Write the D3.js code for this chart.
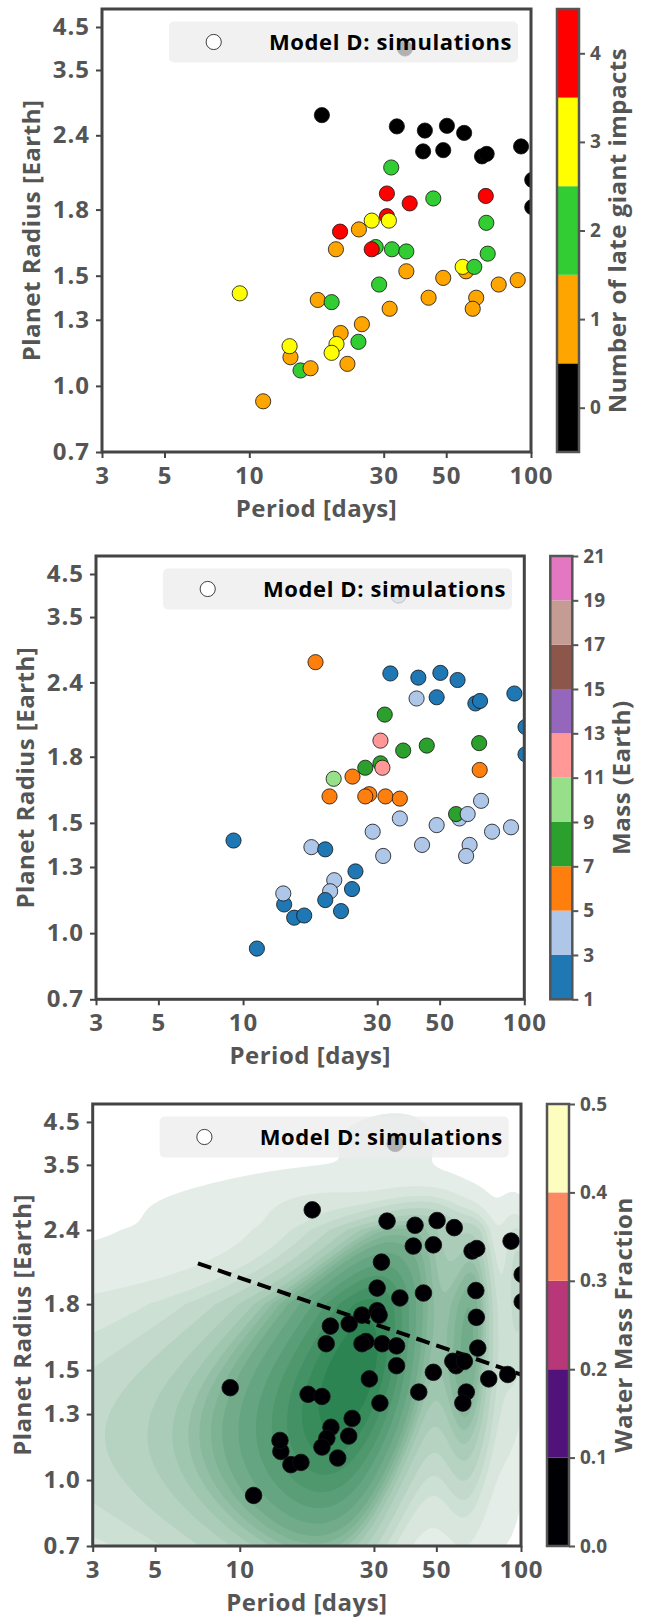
<!DOCTYPE html>
<html>
<head>
<meta charset="utf-8">
<script src="https://cdn.jsdelivr.net/npm/d3@7"></script>
<style>
  body { margin: 0; background: #fff; }
  text { font-family: "Open Sans", sans-serif; font-weight: bold; }
</style>
</head>
<body>
<div id="chart"></div>
<script>
var W = 650, H = 1618;

// simulated planets (Model D), one entry per planet, in drawing order
var period = [18.1, 33.4, 42.0, 50.3, 57.9, 41.4, 48.8, 67.0, 69.6, 92.2, 101, 101, 35.7,
  31.9, 30.8, 37.1, 45.0, 69.1, 69.4, 21.0, 24.5, 27.2, 30.8, 31.3, 20.3, 28.1, 27.2, 32.1,
  36.1, 70.2, 36.1, 58.8, 57.2, 62.9, 48.8, 76.8, 89.7, 28.9, 43.3, 63.9, 62.1, 31.5, 17.5,
  19.6, 25.1, 21.1, 24.4, 20.4, 19.6, 22.3, 9.25, 14.0, 13.9, 15.2, 16.5, 11.2];
var radius = [2.74, 2.55, 2.48, 2.56, 2.44, 2.27, 2.28, 2.23, 2.25, 2.31, 2.04, 1.82, 4.0,
  2.14, 1.93, 1.85, 1.89, 1.91, 1.74, 1.70, 1.71, 1.75, 1.77, 1.75, 1.62, 1.63, 1.62, 1.62,
  1.61, 1.60, 1.52, 1.52, 1.54, 1.54, 1.49, 1.46, 1.48, 1.46, 1.40, 1.40, 1.35, 1.35, 1.39,
  1.38, 1.28, 1.24, 1.20, 1.19, 1.15, 1.10, 1.42, 1.13, 1.18, 1.07, 1.08, 0.93];
var impacts = [0, 0, 0, 0, 0, 0, 0, 0, 0, 0, 0, 0, 0,
  2, 4, 4, 2, 4, 2, 4, 1, 3, 4, 3, 1, 2, 4, 2,
  2, 2, 1, 1, 3, 2, 1, 1, 1, 2, 1, 1, 1, 1, 1,
  2, 1, 1, 2, 3, 3, 1, 3, 1, 3, 2, 1, 1];
var mass = [6.1, 2.4, 2.2, 2.6, 2.3, 3.6, 2.5, 2.1, 2.7, 2.4, 2.2, 2.0, 4.4,
  7.6, 11.8, 8.2, 7.4, 8.6, 6.4, 9.6, 5.6, 7.8, 7.2, 11.4, 5.8, 6.2, 5.3, 6.6,
  5.9, 4.2, 3.8, 3.4, 7.3, 4.1, 3.7, 3.9, 4.5, 4.3, 3.5, 4.0, 3.6, 3.3, 3.9,
  2.6, 2.8, 3.2, 2.5, 3.4, 2.2, 1.9, 2.1, 2.3, 3.1, 1.8, 2.0, 1.7];
var waterFrac = [0, 0, 0, 0, 0, 0, 0, 0, 0, 0, 0, 0, 0,
  0, 0, 0, 0, 0, 0, 0, 0, 0, 0, 0, 0, 0, 0, 0,
  0, 0, 0, 0, 0, 0, 0, 0, 0, 0, 0, 0, 0, 0, 0,
  0, 0, 0, 0, 0, 0, 0, 0, 0, 0, 0, 0, 0];

// dashed trend line in the bottom panel
var fitPeriod = [7.1, 100];
var fitRadius = [2.13, 1.48];

var periodTicks = [3, 5, 10, 30, 50, 100];
var radiusTicks = [0.7, 1.0, 1.3, 1.5, 1.8, 2.4, 3.5, 4.5];
// the radius axis is stretched unevenly: value -> fraction of axis height
var radiusBreaks = [0.7, 1.8, 2.4, 3.5, 4.5, 4.91];
var radiusFrac = [0, 0.5472, 0.7149, 0.8623, 0.9594, 1];

var impactTicks = [0, 1, 2, 3, 4];
var impactColors = ["#000000", "#ffa500", "#32cd32", "#ffff00", "#ff0000"];
var massTicks = [1, 3, 5, 7, 9, 11, 13, 15, 17, 19, 21];
var massColors = ["#1f77b4", "#aec7e8", "#ff7f0e", "#2ca02c", "#98df8a",
  "#ff9896", "#9467bd", "#8c564b", "#c49c94", "#e377c2"];
var wmfTicks = [0.0, 0.1, 0.2, 0.3, 0.4, 0.5];
var wmfColors = ["#000004", "#51127c", "#b73779", "#fc8961", "#fcfdbf"];

var panels = [
  {left: 102, top: 9, width: 429, height: 443, values: impacts, r: 7.6,
   cb: {lo: -0.5, hi: 4.5, edges: [-0.5, 0.5, 1.5, 2.5, 3.5, 4.5], colors: impactColors,
        ticks: impactTicks, fmt: d3.format("d"), label: "Number of late giant impacts"}},
  {left: 96, top: 556, width: 428.3, height: 443.3, values: mass, r: 7.6,
   cb: {lo: 1, hi: 21, edges: massTicks, colors: massColors,
        ticks: massTicks, fmt: d3.format("d"), label: "Mass (Earth)"}},
  {left: 92.7, top: 1104, width: 428.3, height: 442, values: waterFrac, r: 8.3, kde: true,
   cb: {lo: 0, hi: 0.5, edges: wmfTicks, colors: wmfColors,
        ticks: wmfTicks, fmt: d3.format(".1f"), label: "Water Mass Fraction"}}
];

var svg = d3.select("#chart").append("svg")
  .attr("width", W)
  .attr("height", H);

var n = period.length;
var bwP = 7.5, bwR = 0.4;

function density(p, r) {
  var s = 0;
  for (var i = 0; i < n; i++) {
    var dp = (p - period[i]) / bwP, dr = (r - radius[i]) / bwR;
    s += Math.exp(-0.5 * (dp * dp + dr * dr));
  }
  return s / (n * 2 * Math.PI * bwP * bwR);
}

// iso-proportion levels computed on a regular grid in data space
function kdeLevels(count, thresh) {
  var p0 = d3.min(period) - 3 * bwP, p1 = d3.max(period) + 3 * bwP;
  var r0 = d3.min(radius) - 3 * bwR, r1 = d3.max(radius) + 3 * bwR;
  var vals = [];
  for (var i = 0; i < 200; i++) {
    for (var j = 0; j < 200; j++) {
      vals.push(density(p0 + i * (p1 - p0) / 199, r0 + j * (r1 - r0) / 199));
    }
  }
  vals.sort(function(a, b) { return b - a; });
  var total = d3.sum(vals), cum = 0, norm = [];
  vals.forEach(function(v) { cum += v; norm.push(cum / total); });
  return d3.range(count).map(function(k) {
    var q = thresh + k * (1 - thresh) / (count - 1);
    var idx = d3.bisectLeft(norm, 1 - q);
    return vals[Math.min(idx, vals.length - 1)];
  });
}

function drawKde(g, x, y, p) {
  var step = 2;
  var gw = Math.ceil(p.width / step) + 2, gh = Math.ceil(p.height / step) + 2;
  var values = new Array(gw * gh);
  for (var j = 0; j < gh; j++) {
    var r = y.invert(p.top + j * step);
    for (var i = 0; i < gw; i++) {
      values[j * gw + i] = density(x.invert(p.left + i * step), r);
    }
  }
  var levels = kdeLevels(18, 0.012);
  var color = d3.scaleLinear().domain([0, levels.length - 2])
    .range(["#e4ede7", "#2c8452"]).interpolate(d3.interpolateRgb);
  var contours = d3.contours().size([gw, gh]).thresholds(levels.slice(0, -1))(values);
  var path = d3.geoPath(d3.geoIdentity().scale(step)
    .translate([p.left - step / 2, p.top - step / 2]));
  g.selectAll(".band")
    .data(contours)
    .enter().append("path")
    .attr("class", "band")
    .attr("d", path)
    .attr("fill", function(d, i) { return color(i); })
    .attr("stroke", "none");

  var line = d3.line()
    .x(function(d) { return x(d[0]); })
    .y(function(d) { return y(d[1]); });
  g.append("path")
    .datum(d3.zip(fitPeriod, fitRadius))
    .attr("d", line)
    .attr("fill", "none")
    .attr("stroke", "#000")
    .attr("stroke-width", 4)
    .attr("stroke-dasharray", "14,7");
}

panels.forEach(function(p, k) {
  var x = d3.scaleLog().domain([3, 100]).range([p.left, p.left + p.width]);
  var y = d3.scaleLinear().domain(radiusBreaks)
    .range(radiusFrac.map(function(f) { return p.top + p.height * (1 - f); }));

  svg.append("clipPath").attr("id", "clip" + k)
    .append("rect")
    .attr("x", p.left).attr("y", p.top)
    .attr("width", p.width).attr("height", p.height);

  var plot = svg.append("g").attr("clip-path", "url(#clip" + k + ")");
  if (p.kde) drawKde(plot, x, y, p);

  var cb = p.cb;
  var pointColor = d3.scaleThreshold().domain(cb.edges.slice(1, -1)).range(cb.colors);

  plot.selectAll("circle")
    .data(d3.range(n))
    .enter().append("circle")
    .attr("cx", function(i) { return x(period[i]); })
    .attr("cy", function(i) { return y(radius[i]); })
    .attr("r", p.r)
    .attr("fill", function(i) { return pointColor(p.values[i]); })
    .attr("stroke", "#111")
    .attr("stroke-width", 0.8);

  // legend
  var lx = p.left + 67, ly = p.top + 12.5, lh = 41;
  svg.append("rect")
    .attr("x", lx).attr("y", ly)
    .attr("width", 349).attr("height", lh)
    .attr("rx", 5)
    .attr("fill", "#ececec")
    .attr("fill-opacity", 0.75);
  svg.append("circle")
    .attr("cx", lx + 44.7).attr("cy", ly + lh / 2)
    .attr("r", 7.6)
    .attr("fill", "#fff")
    .attr("stroke", "#111")
    .attr("stroke-width", 0.8);
  svg.append("text")
    .attr("x", lx + 100).attr("y", ly + lh / 2 + 7.5)
    .attr("fill", "#000")
    .style("font-size", "22px")
    .style("letter-spacing", "0.6px")
    .text("Model D: simulations");

  // axes
  var xAxis = svg.append("g")
    .attr("transform", "translate(0," + (p.top + p.height) + ")")
    .call(d3.axisBottom(x).tickValues(periodTicks).tickFormat(d3.format("d"))
      .tickSize(6).tickPadding(9));
  var yAxis = svg.append("g")
    .attr("transform", "translate(" + p.left + ",0)")
    .call(d3.axisLeft(y).tickValues(radiusTicks).tickFormat(d3.format(".1f"))
      .tickSize(6).tickPadding(6));
  [xAxis, yAxis].forEach(function(a) {
    a.select(".domain").remove();
    a.selectAll("line").attr("stroke", "#444").attr("stroke-width", 2);
    a.selectAll("text").attr("fill", "#555")
      .style("font-size", "24px").style("letter-spacing", "1px")
      .attr("font-family", null);
  });

  svg.append("rect")
    .attr("x", p.left).attr("y", p.top)
    .attr("width", p.width).attr("height", p.height)
    .attr("fill", "none")
    .attr("stroke", "#444")
    .attr("stroke-width", 3);

  svg.append("text")
    .attr("x", p.left + p.width / 2)
    .attr("y", p.top + p.height + 65)
    .attr("text-anchor", "middle")
    .attr("fill", "#555")
    .style("font-size", "24px")
    .style("letter-spacing", "0.5px")
    .text("Period [days]");

  svg.append("text")
    .attr("transform", "translate(" + (p.left - 62) + "," + (p.top + p.height / 2) + ") rotate(-90)")
    .attr("text-anchor", "middle")
    .attr("fill", "#555")
    .style("font-size", "24px")
    .style("letter-spacing", "0.5px")
    .text("Planet Radius [Earth]");

  // colorbar
  var cbx = p.left + p.width + 26, cbw = 22;
  var cy = d3.scaleLinear().domain([cb.lo, cb.hi]).range([p.top + p.height, p.top]);
  var bins = d3.pairs(cb.edges);
  svg.selectAll(".cbbin" + k)
    .data(bins)
    .enter().append("rect")
    .attr("class", "cbbin" + k)
    .attr("x", cbx)
    .attr("y", function(d) { return cy(d[1]); })
    .attr("width", cbw)
    .attr("height", function(d) { return cy(d[0]) - cy(d[1]); })
    .attr("fill", function(d, i) { return cb.colors[i]; });
  svg.append("rect")
    .attr("x", cbx).attr("y", p.top)
    .attr("width", cbw).attr("height", p.height)
    .attr("fill", "none")
    .attr("stroke", "#555")
    .attr("stroke-width", 2.5);
  var cAxis = svg.append("g")
    .attr("transform", "translate(" + (cbx + cbw) + ",0)")
    .call(d3.axisRight(cy).tickValues(cb.ticks).tickFormat(cb.fmt)
      .tickSize(6).tickPadding(5));
  cAxis.select(".domain").remove();
  cAxis.selectAll("line").attr("stroke", "#555").attr("stroke-width", 2);
  cAxis.selectAll("text").attr("fill", "#555")
    .style("font-size", "19px")
    .attr("font-family", null);
  var right = cAxis.node().getBBox().width + cbx + cbw;
  svg.append("text")
    .attr("transform", "translate(" + (right + 25) + "," + (p.top + p.height / 2) + ") rotate(-90)")
    .attr("text-anchor", "middle")
    .attr("fill", "#555")
    .style("font-size", "24px")
    .style("letter-spacing", "0.5px")
    .text(cb.label);
});
</script>
</body>
</html>
